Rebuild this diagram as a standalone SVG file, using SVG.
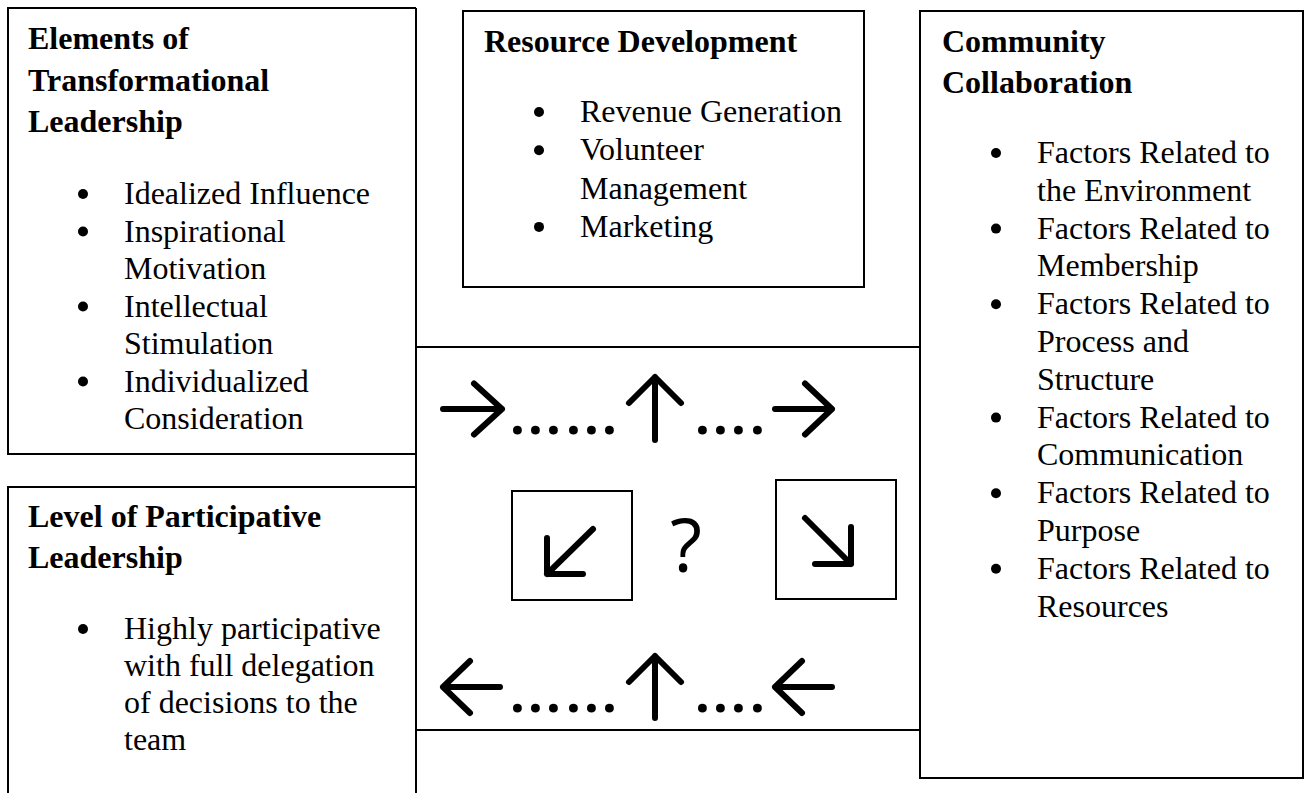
<svg xmlns="http://www.w3.org/2000/svg" width="1306" height="793" viewBox="0 0 1306 793">
<style>
.frame{fill:none;stroke:#000;stroke-width:2}
.t{font-family:"Liberation Serif","Times New Roman",serif;font-size:32px;font-weight:bold;fill:#000}
.b{font-family:"Liberation Serif","Times New Roman",serif;font-size:32px;fill:#000}
.bul{fill:#000}
.arr{fill:none;stroke:#000;stroke-width:6;stroke-linecap:round;stroke-linejoin:round}
.dots{font-family:"Open Sans",sans-serif;font-size:52px;font-weight:bold;fill:#000}
.q{font-family:"Open Sans",sans-serif;font-size:74px;fill:#000;text-anchor:middle}
</style>
<rect width="1306" height="793" fill="#fff"/>

<g id="transformational-leadership">
<path class="frame" d="M416 8 H8 V454 H416"/>
<text class="t" x="28" y="49">Elements of</text>
<text class="t" x="28" y="91">Transformational</text>
<text class="t" x="28" y="132">Leadership</text>
<circle class="bul" cx="83" cy="194" r="5"/>
<text class="b" x="124" y="204">Idealized Influence</text>
<circle class="bul" cx="83" cy="231.5" r="5"/>
<text class="b" x="124" y="241.5">Inspirational</text>
<text class="b" x="124" y="279">Motivation</text>
<circle class="bul" cx="83" cy="306.5" r="5"/>
<text class="b" x="124" y="316.5">Intellectual</text>
<text class="b" x="124" y="354">Stimulation</text>
<circle class="bul" cx="83" cy="381.5" r="5"/>
<text class="b" x="124" y="391.5">Individualized</text>
<text class="b" x="124" y="429">Consideration</text>
</g>

<g id="participative-leadership">
<path class="frame" d="M416 487 H8 V793"/>
<text class="t" x="28" y="527">Level of Participative</text>
<text class="t" x="28" y="568">Leadership</text>
<circle class="bul" cx="83" cy="629" r="5"/>
<text class="b" x="124" y="639">Highly participative</text>
<text class="b" x="124" y="676">with full delegation</text>
<text class="b" x="124" y="713">of decisions to the</text>
<text class="b" x="124" y="750">team</text>
</g>

<g id="resource-development">
<rect class="frame" x="463" y="11" width="401" height="276"/>
<text class="t" x="484" y="52">Resource Development</text>
<circle class="bul" cx="539" cy="112" r="5"/>
<text class="b" x="580" y="122">Revenue Generation</text>
<circle class="bul" cx="539" cy="150.3" r="5"/>
<text class="b" x="580" y="160.3">Volunteer</text>
<text class="b" x="580" y="198.6">Management</text>
<circle class="bul" cx="539" cy="226.9" r="5"/>
<text class="b" x="580" y="236.9">Marketing</text>
</g>

<g id="community-collaboration">
<rect class="frame" x="920" y="11" width="383" height="767"/>
<text class="t" x="942" y="52">Community</text>
<text class="t" x="942" y="93">Collaboration</text>
<circle class="bul" cx="996" cy="153" r="5"/>
<text class="b" x="1037" y="163">Factors Related to</text>
<text class="b" x="1037" y="200.8">the Environment</text>
<circle class="bul" cx="996" cy="228.6" r="5"/>
<text class="b" x="1037" y="238.6">Factors Related to</text>
<text class="b" x="1037" y="276.4">Membership</text>
<circle class="bul" cx="996" cy="304.2" r="5"/>
<text class="b" x="1037" y="314.2">Factors Related to</text>
<text class="b" x="1037" y="352">Process and</text>
<text class="b" x="1037" y="389.8">Structure</text>
<circle class="bul" cx="996" cy="417.6" r="5"/>
<text class="b" x="1037" y="427.6">Factors Related to</text>
<text class="b" x="1037" y="465.4">Communication</text>
<circle class="bul" cx="996" cy="493.2" r="5"/>
<text class="b" x="1037" y="503.2">Factors Related to</text>
<text class="b" x="1037" y="541">Purpose</text>
<circle class="bul" cx="996" cy="568.8" r="5"/>
<text class="b" x="1037" y="578.8">Factors Related to</text>
<text class="b" x="1037" y="616.6">Resources</text>
</g>

<g id="center-panel">
<path class="frame" d="M416 8 V793 M416 347 H920 M416 730 H920"/>
<rect class="frame" x="512" y="491" width="120" height="109"/>
<rect class="frame" x="776" y="480" width="120" height="119"/>
<text class="q" x="686" y="572">?</text>
</g>

<g id="connectors">
<path class="arr" d="M443 409 H502 M474 383.5 L502 409 L474 434.5"/>
<path class="arr" d="M655 440 V377 M629 403 L655 377 L681 403"/>
<path class="arr" d="M775 409 H832 M805 383.5 L832 409 L805 434.5"/>
<path class="arr" d="M443 687 H500 M470 661 L443 687 L470 713"/>
<path class="arr" d="M655 718 V656 M629 682 L655 656 L681 682"/>
<path class="arr" d="M775 687 H832 M802 661 L775 687 L802 713"/>
<path class="arr" d="M593 529 L547 574 M547 538 V574 H583"/>
<path class="arr" d="M805 518 L851 564 M851 527 V564 H815"/>
<text class="dots" x="510 528 546 566 584 602" y="433.5">......</text>
<text class="dots" x="695 713 731 750" y="433.5">....</text>
<text class="dots" x="510 528 546 566 584 602" y="711.5">......</text>
<text class="dots" x="695 713 731 750" y="711.5">....</text>
</g>
</svg>
